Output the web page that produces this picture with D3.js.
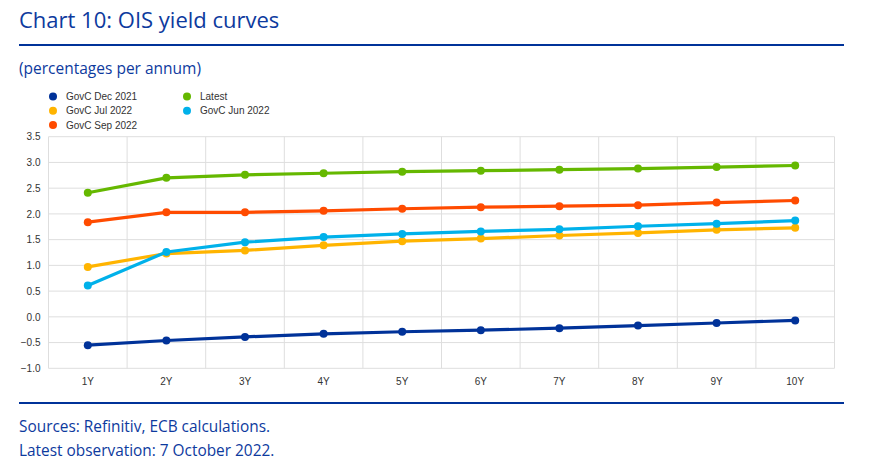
<!DOCTYPE html>
<html><head><meta charset="utf-8">
<script src="https://cdn.jsdelivr.net/npm/d3@7"></script>
<style>
body{margin:0;background:#fff;}
svg{display:block;}
</style></head>
<body>
<svg id="chart" width="871" height="465"></svg>
<script>
const categories = ["1Y","2Y","3Y","4Y","5Y","6Y","7Y","8Y","9Y","10Y"];
const govcDec2021 = [-0.55,-0.46,-0.39,-0.33,-0.29,-0.26,-0.22,-0.17,-0.12,-0.07];
const govcJul2022 = [0.97,1.23,1.29,1.39,1.47,1.52,1.58,1.63,1.69,1.73];
const govcSep2022 = [1.84,2.03,2.03,2.06,2.10,2.13,2.15,2.17,2.22,2.26];
const latest      = [2.41,2.70,2.76,2.79,2.82,2.84,2.86,2.88,2.91,2.94];
const govcJun2022 = [0.61,1.26,1.45,1.55,1.61,1.66,1.70,1.76,1.81,1.87];
const yTicks = [-1.0,-0.5,0.0,0.5,1.0,1.5,2.0,2.5,3.0,3.5];

const series = [
  {name:"GovC Dec 2021", values:govcDec2021, color:"#003299"},
  {name:"GovC Jul 2022", values:govcJul2022, color:"#FFB400"},
  {name:"GovC Sep 2022", values:govcSep2022, color:"#FF4B00"},
  {name:"Latest", values:latest, color:"#65B800"},
  {name:"GovC Jun 2022", values:govcJun2022, color:"#00B1EA"}
];
const legendLayout = [[0,0],[0,1],[0,2],[1,0],[1,1]];

const svg = d3.select("#chart");
const blue = "#0d3a9e";

svg.append("text").attr("x",19).attr("y",28).attr("fill",blue)
  .attr("font-family","Open Sans").attr("font-size",22).text("Chart 10: OIS yield curves");
svg.append("rect").attr("x",19).attr("y",44).attr("width",825).attr("height",2).attr("fill","#003299");
svg.append("text").attr("x",19).attr("y",74).attr("fill",blue)
  .attr("font-family","Open Sans").attr("font-size",15.5).text("(percentages per annum)");

const L=48.5, R=834.5, T=136.7, B=368.3;
const x = d3.scaleBand().domain(categories).range([L,R]);
const y = d3.scaleLinear().domain([-1,3.5]).range([B,T]);

const g = svg.append("g");
g.selectAll("line.h").data(yTicks).join("line")
  .attr("x1",L).attr("x2",R).attr("y1",d=>y(d)).attr("y2",d=>y(d))
  .attr("stroke","#dedede").attr("stroke-width",1);
const vb = categories.map(c=>x(c)).concat([R]);
g.selectAll("line.v").data(vb).join("line")
  .attr("x1",d=>d).attr("x2",d=>d).attr("y1",T).attr("y2",B)
  .attr("stroke","#dedede").attr("stroke-width",1);

const yAxis = d3.axisLeft(y).tickValues(yTicks).tickFormat(d3.format(".1f")).tickSize(0).tickPadding(8);
const ya = svg.append("g").attr("transform",`translate(${L},0)`).call(yAxis);
ya.select(".domain").remove();
ya.selectAll("text").attr("font-family","Liberation Sans, Arial").attr("font-size",10).attr("fill","#333");

const xAxis = d3.axisBottom(x).tickSize(0).tickPadding(10);
const xa = svg.append("g").attr("transform",`translate(0,${B})`).call(xAxis);
xa.select(".domain").remove();
xa.selectAll("text").attr("font-family","Liberation Sans, Arial").attr("font-size",10).attr("fill","#333");

const line = d3.line().x((d,i)=>x(categories[i])+x.bandwidth()/2).y(d=>y(d));
series.forEach(s=>{
  const sg = svg.append("g");
  sg.append("path").datum(s.values).attr("d",line).attr("fill","none")
    .attr("stroke",s.color).attr("stroke-width",3.2).attr("stroke-linejoin","round");
  sg.selectAll("circle").data(s.values).join("circle")
    .attr("cx",(d,i)=>x(categories[i])+x.bandwidth()/2).attr("cy",d=>y(d))
    .attr("r",4).attr("fill",s.color);
});

const lg = svg.append("g");
series.forEach((s,i)=>{
  const [col,row] = legendLayout[i];
  const cx = 53 + col*134, cy = 96.5 + row*14.3;
  lg.append("circle").attr("cx",cx).attr("cy",cy).attr("r",4).attr("fill",s.color);
  lg.append("text").attr("x",cx+13).attr("y",cy+3.5).attr("font-family","Liberation Sans, Arial")
    .attr("font-size",10).attr("fill","#333").text(s.name);
});

svg.append("rect").attr("x",19).attr("y",402).attr("width",825).attr("height",2).attr("fill","#003299");
svg.append("text").attr("x",19).attr("y",432).attr("fill",blue)
  .attr("font-family","Open Sans").attr("font-size",15.4).text("Sources: Refinitiv, ECB calculations.");
svg.append("text").attr("x",19).attr("y",456).attr("fill",blue)
  .attr("font-family","Open Sans").attr("font-size",15.4).text("Latest observation: 7 October 2022.");
</script>
</body></html>
